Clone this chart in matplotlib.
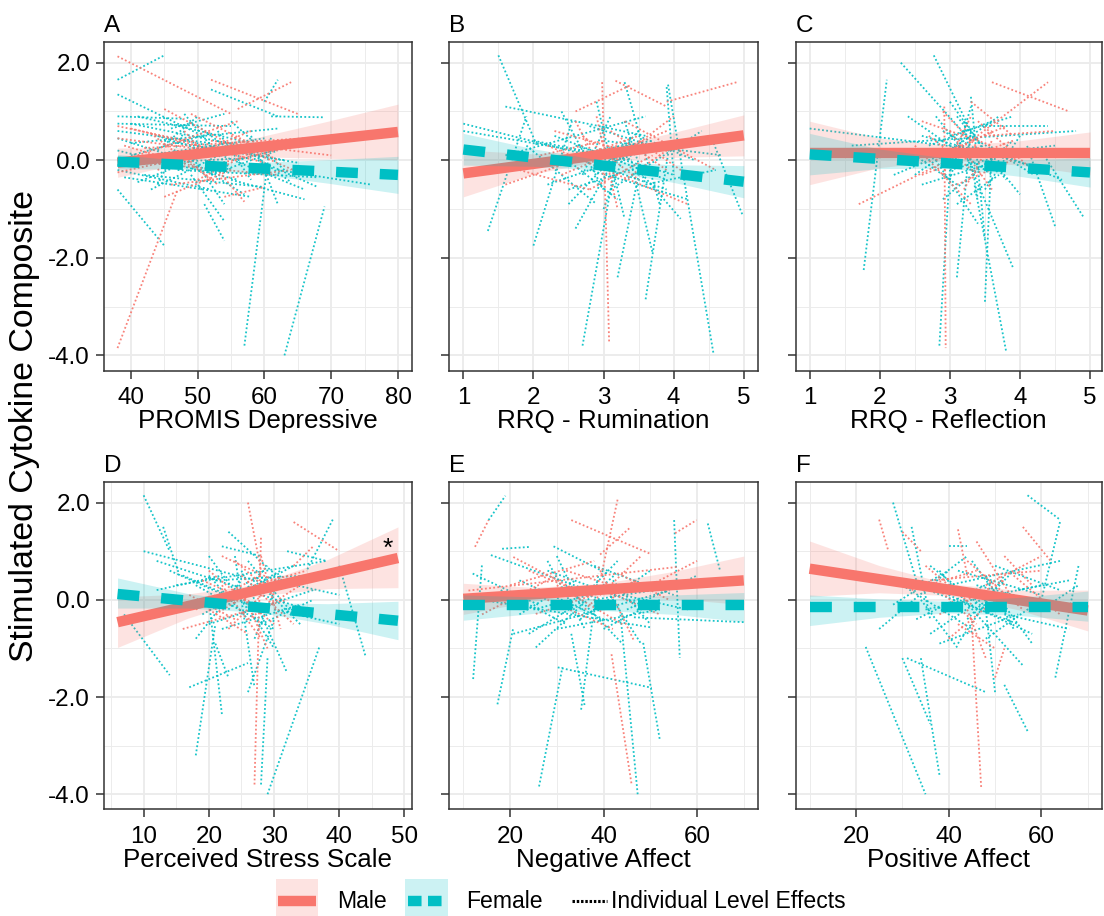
import matplotlib
matplotlib.use("Agg")
import matplotlib.pyplot as plt
from matplotlib.patches import Rectangle
from matplotlib.lines import Line2D

plt.rcParams['font.family'] = ['Liberation Sans', 'DejaVu Sans']

RED = '#F8766D'
CYAN = '#00BFC4'

# ---------------- data ----------------
letters = ["A", "B", "C", "D", "E", "F"]
xlabels = ["PROMIS Depressive", "RRQ - Rumination", "RRQ - Reflection",
           "Perceived Stress Scale", "Negative Affect", "Positive Affect"]
xlims = [(35.9, 82.1), (0.8, 5.2), (0.8, 5.166), (3.85, 51.15), (7, 73), (7, 73)]
xticks = [[40, 50, 60, 70, 80], [1, 2, 3, 4, 5], [1, 2, 3, 4, 5],
          [10, 20, 30, 40, 50], [20, 40, 60], [20, 40, 60]]
xminor = [[45, 55, 65, 75], [1.5, 2.5, 3.5, 4.5], [1.5, 2.5, 3.5, 4.5],
          [5, 15, 25, 35, 45], [10, 30, 50, 70], [10, 30, 50, 70]]
yticks = [2, 0, -2, -4]
ytick_labels = ["2.0", "0.0", "-2.0", "-4.0"]
yminor = [1, -1, -3]

# confidence band x positions
band_x = [[38, 48.5, 59, 69.5, 80], [1, 2, 3, 4, 5], [1, 2, 3, 4, 5],
          [6, 16.75, 27.5, 38.25, 49], [10, 25, 40, 55, 70], [10, 25, 40, 55, 70]]
male_lo = [[-0.35, -0.04, 0.07, 0.04, 0.01], [-0.75, -0.28, 0.0, 0.06, 0.09],
           [-0.5, -0.15, 0.0, -0.1, -0.3], [-0.98, -0.38, 0.08, 0.23, 0.25],
           [-0.3, -0.025, 0.08, 0.025, -0.1], [0.07, 0.145, 0.09, -0.205, -0.64]]
male_hi = [[0.25, 0.26, 0.47, 0.80, 1.15], [0.21, 0.13, 0.24, 0.57, 0.93],
           [0.8, 0.45, 0.3, 0.4, 0.58], [0.06, 0.12, 0.32, 0.83, 1.5],
           [0.34, 0.255, 0.34, 0.585, 0.9], [1.21, 0.705, 0.33, 0.195, 0.2]]
female_lo = [[-0.18, -0.18, -0.285, -0.47, -0.68], [-0.1, -0.125, -0.21, -0.455, -0.77],
             [-0.3, -0.17, -0.165, -0.33, -0.55], [-0.17, -0.17, -0.255, -0.5, -0.82],
             [-0.42, -0.28, -0.22, -0.3, -0.45], [-0.53, -0.36, -0.27, -0.32, -0.44]]
female_hi = [[0.12, -0.02, -0.045, 0.01, 0.08], [0.55, 0.235, -0.01, -0.095, -0.11],
             [0.55, 0.23, 0.035, 0.01, 0.05], [0.45, 0.13, -0.055, -0.08, -0.03],
             [0.1, 0.06, 0.02, 0.1, 0.15], [0.1, 0.02, -0.03, 0.05, 0.18]]

# fitted lines: (x0, y0, x1, y1)
male_fit = [(38, -0.05, 80, 0.58), (1, -0.27, 5, 0.51), (1, 0.15, 5, 0.15),
            (6, -0.46, 49, 0.86), (10, 0.02, 70, 0.40), (10, 0.64, 70, -0.22)]
female_fit = [(38, -0.03, 80, -0.30), (1, 0.22, 5, -0.44), (1, 0.12, 5, -0.25),
              (6, 0.12, 49, -0.43), (10, -0.10, 70, -0.10), (10, -0.15, 70, -0.15)]

# individual-level effects: (x0, y0, x1, y1)
A_male = [(38, 2.13, 55, 0.95), (38, -3.85, 47, -0.6), (52, 1.65, 65, 0.95),
          (56, 1.05, 64, 1.6), (45, 1.05, 58, 0.1), (40, 0.65, 60, -0.05),
          (42, 0.25, 66, 0.45), (48, 0.6, 57, -0.85), (38, 0.0, 62, -0.3),
          (50, -0.4, 60, 0.3), (44, -0.2, 58, 0.6), (52, 0.4, 70, 0.1),
          (38, 0.45, 55, 0.15), (46, -0.5, 64, -0.2), (54, -0.75, 60, -0.55),
          (39, 0.3, 50, -0.15), (47, 0.2, 53, -0.5), (55, 0.5, 62, 0.0),
          (38, 0.7, 50, 0.35), (41, 0.1, 56, 0.8), (43, 0.55, 52, -0.4),
          (49, 0.95, 60, 0.2), (52, -0.1, 65, 0.3), (38, -0.25, 48, 0.05),
          (56, 0.3, 66, -0.3), (45, -0.75, 55, -0.2)]
A_female = [(38, 1.65, 45, 2.15), (38, 1.35, 50, 0.55), (57, -3.8, 61, 0.5),
            (63, -4.0, 69, -0.95), (38, -0.6, 45, -1.75), (49, -0.3, 54, -1.25),
            (51, -0.9, 54, -1.65), (52, 1.45, 62, 0.9), (60, 1.2, 62, 1.65),
            (61, 0.9, 69, 0.88), (38, 0.9, 48, 0.85), (38, 0.6, 52, 0.35),
            (40, 0.75, 60, 0.2), (45, 0.4, 65, -0.05), (38, 0.2, 56, -0.4),
            (42, -0.3, 60, -0.55), (48, 0.95, 55, -0.2), (50, 0.3, 66, -0.6),
            (55, 0.8, 63, -0.2), (58, 0.5, 62, -0.9), (38, -0.1, 58, 0.05),
            (44, 0.2, 50, 0.9), (47, -0.2, 68, -0.35), (40, 0.1, 52, 0.55),
            (56, 0.0, 64, 0.3), (62, -0.2, 76, -0.5), (44, 0.5, 53, 0.1),
            (50, -0.1, 57, -0.7), (59, 0.0, 68, -0.55), (46, 0.65, 54, 0.95),
            (41, -0.45, 52, 0.15), (53, 0.6, 58, -0.4),
            (38, 0.75, 55, 0.7), (38, 0.45, 47, 0.05), (39, -0.35, 58, -0.75),
            (41, 0.9, 58, 0.35), (43, -0.6, 56, 0.3), (45, 0.15, 60, 0.45),
            (48, 0.4, 63, 0.0), (50, 0.7, 57, 0.0), (52, -0.3, 62, 0.2),
            (38, -0.2, 52, -0.6), (44, -0.5, 48, 0.6), (55, -0.4, 66, -0.8),
            (40, 0.35, 62, 0.65), (49, 0.1, 54, -0.9), (57, 0.25, 64, -0.45)]
B_male = [(2.98, 1.6, 3.08, -3.75), (3.17, 1.63, 3.9, 1.1), (3.9, 1.2, 4.9, 1.6),
          (2.6, 1.0, 3.4, 1.55), (1.6, -0.5, 3.2, 0.3), (2.2, 0.3, 4.2, -0.9),
          (3.3, 0.8, 4.6, -0.2), (2.4, -0.3, 3.9, 0.6), (2.7, 0.5, 3.5, -0.4),
          (3.0, -0.2, 4.0, 0.9), (2.9, 0.9, 3.2, -1.0), (2.3, 0.6, 3.3, 0.2),
          (3.5, 0.4, 4.3, -0.4), (1.8, -0.2, 2.8, -0.6),
          (2.5, 0.0, 3.5, 0.5), (2.8, -0.6, 3.7, 0.1), (3.1, 0.6, 3.9, -0.2),
          (2.6, 0.8, 3.0, -0.3), (3.3, -0.4, 4.0, 0.3), (2.1, 0.1, 3.0, 0.4)]
B_female = [(1.5, 2.15, 2.05, 0.3), (1.35, -1.45, 1.9, 0.9), (2.0, -1.75, 2.55, 0.8),
            (2.7, -3.8, 3.2, 0.2), (3.92, 1.55, 4.57, -3.98), (3.3, 1.6, 3.8, -0.9),
            (3.6, -2.85, 3.95, 0.4), (3.2, -2.4, 3.5, -0.3), (1.0, 0.75, 3.2, -0.05),
            (1.0, 0.6, 2.8, 0.15), (1.6, 0.1, 3.6, 0.9), (1.6, 1.1, 3.6, 0.5),
            (4.57, 0.35, 4.99, -1.15), (2.6, -1.4, 3.3, 0.4), (3.9, 1.5, 4.0, -0.3),
            (2.4, 1.0, 3.0, -0.6), (2.8, -0.2, 4.2, -0.8), (3.0, 0.4, 4.7, 0.1),
            (2.2, -0.5, 3.8, 0.3), (3.4, -0.1, 3.7, -1.9), (2.9, 1.2, 3.3, -1.2),
            (2.6, 0.3, 4.0, -0.3), (3.1, -0.6, 4.4, 0.6), (1.9, 0.3, 2.9, -0.9),
            (3.3, 0.8, 3.6, -0.5), (2.5, -0.9, 3.5, 0.6),
            (2.3, 0.5, 3.9, -0.4), (2.5, -0.6, 3.6, -0.1), (2.8, 0.7, 3.9, 0.2),
            (3.0, -1.0, 3.4, 0.5), (2.4, 0.1, 3.2, -0.8), (3.2, 0.3, 4.1, -1.2),
            (2.7, -0.3, 3.1, 0.9), (3.5, 0.5, 4.3, 0.0), (2.0, 0.4, 3.4, 0.0),
            (3.1, -0.2, 3.9, -0.6), (2.9, 0.2, 3.7, 0.4), (3.6, -0.5, 4.6, -0.2)]
C_male = [(2.92, 1.1, 2.94, -3.85), (3.6, 1.6, 4.7, 1.0), (3.3, 0.4, 4.4, 1.6),
          (1.7, -0.9, 3.4, 0.3), (2.6, -0.3, 3.9, 0.4), (3.0, 0.6, 3.6, -0.6),
          (2.9, 1.0, 3.5, 0.1), (3.1, -0.5, 4.2, 0.2), (2.5, 0.3, 3.3, -0.9),
          (3.4, 0.8, 4.1, -0.1), (3.5, 0.5, 4.5, 0.6), (2.8, 0.0, 3.6, 0.6),
          (2.7, 0.5, 3.4, -0.3), (3.0, 0.2, 3.8, 0.7), (3.2, -0.6, 3.6, 0.4),
          (2.6, 0.8, 3.6, 0.3), (3.3, 1.2, 3.9, 0.5), (2.9, -0.3, 3.3, 0.9)]
C_female = [(1.77, -2.25, 2.1, 1.65), (2.3, 2.0, 3.3, 0.4), (2.77, 2.15, 3.3, 0.6),
            (2.85, -3.8, 3.0, -0.2), (3.1, -2.4, 3.3, 0.6), (3.5, -2.9, 3.6, 0.3),
            (3.8, -3.9, 3.35, -0.5), (4.5, -1.35, 4.1, 0.3), (4.9, -1.15, 4.3, 0.2),
            (1.0, 0.65, 3.5, 0.2), (1.6, 0.3, 4.8, 0.6), (2.5, -0.3, 3.7, 0.9),
            (3.0, 1.2, 3.8, -0.4), (3.3, 1.3, 3.5, -1.6), (2.6, 0.5, 4.4, -0.2),
            (2.9, -0.8, 3.9, 0.4), (3.2, 0.2, 3.9, -2.2), (2.4, 0.9, 3.6, -0.3),
            (3.5, 0.7, 4.4, 0.7), (2.8, 0.0, 3.4, -1.3), (3.1, 0.9, 4.0, -0.7),
            (2.2, -0.3, 3.2, 0.3), (3.6, 0.2, 4.6, -0.4), (3.0, -0.4, 3.3, 1.1),
            (2.7, 0.3, 3.6, 0.8), (2.9, 0.6, 3.8, -0.1), (3.0, -0.2, 4.0, 0.2),
            (3.2, 0.8, 3.4, -0.8), (2.6, -0.5, 3.5, -0.1), (3.4, 0.4, 4.2, -0.3),
            (3.1, -0.9, 3.7, -0.3), (2.8, 0.9, 3.3, 0.0), (3.3, 0.1, 4.5, 0.3),
            (2.4, 0.2, 3.1, -0.5), (3.5, -0.6, 4.0, 0.5), (3.0, 0.5, 3.9, 0.9)]
D_male = [(27, -3.8, 28, 1.3), (26, 2.0, 28, 0.6), (33, 1.6, 40, 1.0),
          (33, 0.7, 36, 1.1), (18, -0.2, 28, 0.5), (20, 0.6, 30, -0.5),
          (16, -0.6, 32, 0.0), (22, 0.3, 28, -0.8), (24, 0.8, 30, 0.1),
          (26, -0.4, 34, 0.3), (28, 0.9, 31, -0.6), (21, -0.3, 27, 0.2),
          (25, 0.2, 29, -1.0),
          (19, 0.4, 29, -0.2), (23, -0.6, 31, 0.5), (25, 0.5, 33, -0.5),
          (20, -0.2, 26, -0.7), (27, 0.3, 35, 0.6), (22, 0.9, 30, 0.4),
          (17, 0.1, 24, -0.4)]
D_female = [(10, 2.15, 14, 1.0), (13, 1.5, 15.5, 0.5), (7, -0.3, 14, -1.55),
            (18, -3.2, 21, -0.5), (22, -2.35, 20, 0.0), (17, -1.8, 26, -1.3),
            (29, -4.0, 37, -0.95), (28, -3.8, 29, -1.2), (26, -1.9, 30, -0.4),
            (39, 1.65, 35, 0.6), (40, 0.7, 44, -1.15), (10, 1.0, 30, 0.3),
            (22, 1.1, 28, 0.9), (23, 1.4, 32, 0.3), (12, 0.8, 35, -0.2),
            (15, 0.3, 38, 0.8), (20, -0.5, 36, 0.2), (25, 0.6, 32, -1.5),
            (21, -0.9, 23, -1.6), (24, 0.9, 27, -1.8), (18, 0.3, 30, -0.6),
            (26, 0.2, 33, 0.7), (30, -0.2, 40, -0.5), (14, 0.6, 24, 0.0),
            (27, -0.8, 31, 0.5), (32, 1.0, 38, 0.8), (20, 0.5, 26, -0.4),
            (34, -0.5, 28, 0.3),
            (16, 0.5, 28, -0.2), (19, -0.3, 31, 0.6), (20, 0.9, 26, -0.2),
            (22, -0.6, 34, -0.1), (24, 0.3, 30, -1.0), (18, -0.8, 25, 0.4),
            (26, 0.8, 33, -0.3), (21, 0.4, 35, 0.5), (28, -0.5, 36, 0.0),
            (23, -0.2, 29, 0.7), (12, 0.2, 22, 0.5), (30, 0.4, 40, 0.1)]
E_male = [(43, 2.06, 39.5, 0.5), (33.1, 1.64, 49.9, 0.95), (45.5, 1.47, 38.9, 0.9),
          (41.7, -1.12, 46, -3.8), (12.5, 1.09, 15.4, 1.64), (55.3, 1.37, 59.9, 1.64),
          (11.1, 0.19, 56.1, 0.68), (25.5, -0.29, 47.5, 0.4), (20.7, 0.88, 36.9, 0.06),
          (38.9, 0.68, 46.5, -0.84), (14, -0.3, 30, 0.5), (30, 0.3, 44, -0.5),
          (48, 0.2, 60, 0.8),
          (20, 0.3, 38, 0.8), (28, 0.0, 42, -0.6), (32, 0.6, 45, 0.2),
          (36, -0.2, 48, 0.9), (24, 0.6, 34, 0.2), (40, 0.2, 52, -0.3),
          (44, 0.5, 54, 0.0)]
E_female = [(12.1, -1.63, 14, 0.74), (15.4, 1.64, 19, 2.14), (17.3, -2.15, 20.7, -0.57),
            (26.2, -3.84, 31.2, -1.39), (47.3, -4.0, 43.6, -0.29), (35.2, -2.26, 38.9, 0.54),
            (52, -2.86, 48.4, -0.84), (55.1, 1.64, 56.3, -1.19), (62.3, 1.57, 64.9, 0.61),
            (29.3, 1.1, 40.8, 0.54), (18.3, 1.05, 24.5, 1.09), (15.9, 0.92, 36.9, 0.19),
            (10.1, 0.06, 50.3, -0.57), (20.7, -0.7, 54.2, 0.19), (30.2, -1.39, 50.3, -1.81),
            (37.9, 0.0, 63.7, 0.4), (46.5, -0.36, 70, -0.46), (25.5, -0.98, 42.7, 0.54),
            (33.1, -0.7, 36, -2.2), (12, 0.54, 26, -0.1), (28, 0.8, 36, -0.6),
            (40, 0.3, 48, -0.9), (22, -0.3, 34, 0.4), (44, 0.1, 58, -0.2),
            (22, 0.4, 40, -0.4), (25, -0.2, 45, 0.3), (28, 0.6, 48, -0.1),
            (30, -0.6, 52, -0.2), (33, 0.2, 44, -0.9), (35, -0.4, 50, 0.6),
            (38, 0.7, 55, 0.1), (24, -0.7, 36, 0.0), (40, -0.6, 52, 0.0),
            (42, 0.4, 50, -0.5), (18, 0.2, 32, -0.5), (45, -0.2, 60, 0.5),
            (30, 0.9, 36, -0.3), (36, 0.1, 43, 0.8)]
F_male = [(47, -3.85, 45, -0.5), (25, 1.65, 27, 1.0), (30, 1.4, 34, 1.0),
          (42, 1.45, 44, 0.5), (56, 1.5, 62, 0.8), (46, 1.2, 54, 0.0),
          (36, 0.4, 60, 0.6), (40, -0.8, 50, 0.0), (50, -1.6, 52, -1.0),
          (44, -0.2, 48, -1.2), (52, 0.9, 58, 0.3), (38, 0.2, 46, -0.5),
          (32, 0.2, 46, 0.6), (38, -0.3, 52, 0.4), (44, 0.8, 56, -0.2),
          (48, 0.3, 60, 0.9), (35, 0.7, 45, -0.1), (42, -0.5, 50, -1.0),
          (54, 0.5, 64, -0.3)]
F_female = [(22.1, -0.97, 35, -4.0), (28, 2.0, 33, 0.4), (30, -1.2, 36, -2.55),
            (38, -3.6, 34, -1.2), (40, 1.1, 44, 1.1), (57, 2.15, 64, 1.65),
            (64, 1.6, 60, 0.0), (63, -1.6, 68, 0.7), (50, -1.9, 48, -0.2),
            (46, -0.3, 56, -1.35), (52, -1.75, 57, -2.7), (31, -1.2, 48, -1.9),
            (25, -0.6, 40, 0.6), (30, 0.4, 55, -0.5), (35, -0.2, 60, 0.3),
            (45, 0.8, 58, -0.9), (40, 0.3, 64, 0.8), (36, -0.7, 50, 0.2),
            (32, 1.5, 36, -0.4), (42, -0.9, 52, 0.5), (48, 0.5, 54, -0.6),
            (55, 0.2, 66, 0.4), (38, 0.6, 46, -0.3), (60, -0.2, 68, 0.3),
            (30, 0.3, 45, -0.6), (33, -0.4, 50, 0.4), (36, 0.7, 48, -0.2),
            (38, -0.9, 55, -0.3), (40, 0.1, 58, -0.7), (42, 0.6, 60, 0.1),
            (44, -0.4, 54, 0.6), (46, 0.3, 62, -0.1), (48, -0.8, 60, 0.0),
            (34, 0.0, 42, -1.0), (50, 0.7, 64, 0.2), (28, -0.1, 38, 0.5),
            (52, -0.3, 66, -0.6), (37, 0.4, 44, 0.9)]

male_ind = [A_male, B_male, C_male, D_male, E_male, F_male]
female_ind = [A_female, B_female, C_female, D_female, E_female, F_female]

star_pos = (47.5, 0.91)  # significance marker in panel D

# ---------------- layout ----------------
W, H = 1104, 916
fig = plt.figure(figsize=(W / 100, H / 100), dpi=100)
col_left = [103.5, 449.3, 795.7]
col_w = [308.5, 308.5, 306.0]
row_top = [41.7, 481.7]
row_h = [328.8, 327.6]

DOT = (0, (1, 1.3))

for i in range(6):
    r, c = divmod(i, 3)
    ax = fig.add_axes([col_left[c] / W, 1 - (row_top[r] + row_h[r]) / H,
                       col_w[c] / W, row_h[r] / H])
    ax.set_xlim(*xlims[i])
    ax.set_ylim(-4.31, 2.43)
    ax.set_xticks(xticks[i])
    ax.set_xticks(xminor[i], minor=True)
    ax.set_yticks(yticks)
    ax.set_yticks(yminor, minor=True)
    if c == 0:
        ax.set_yticklabels(ytick_labels)
    else:
        ax.set_yticklabels([])
    ax.set_axisbelow(True)
    ax.grid(which='major', color='#EBEBEB', lw=1.3)
    ax.grid(which='minor', color='#EBEBEB', lw=0.65)
    ax.tick_params(which='major', direction='out', length=5.5, width=1.1,
                   color='#333333', labelsize=17.4, labelcolor='black')
    ax.tick_params(axis='x', pad=6.5)
    ax.tick_params(axis='y', pad=4.3)
    ax.tick_params(which='minor', length=0)
    for s in ax.spines.values():
        s.set_color('#333333')
        s.set_linewidth(1.1)
        s.set_zorder(10)

    for (x0, y0, x1, y1) in female_ind[i]:
        ax.plot([x0, x1], [y0, y1], color=CYAN, lw=1.3, ls=DOT, alpha=0.9, zorder=2)
    for (x0, y0, x1, y1) in male_ind[i]:
        ax.plot([x0, x1], [y0, y1], color=RED, lw=1.3, ls=DOT, alpha=0.9, zorder=2)

    bx = band_x[i]
    # male smooth (ribbon + line), then female smooth on top
    ax.fill_between(bx, male_lo[i], male_hi[i], color=RED, alpha=0.2, lw=0, zorder=3)
    mx0, my0, mx1, my1 = male_fit[i]
    ax.plot([mx0, mx1], [my0, my1], color=RED, lw=7.5, solid_capstyle='butt', zorder=4)
    ax.fill_between(bx, female_lo[i], female_hi[i], color=CYAN, alpha=0.2, lw=0, zorder=5)
    fx0, fy0, fx1, fy1 = female_fit[i]
    ax.plot([fx0, fx1], [fy0, fy1], color=CYAN, lw=7.5, ls=(0, (2.1, 2.1)),
            dash_capstyle='butt', zorder=6)

    ax.set_xlabel(xlabels[i], fontsize=18.7, color='black')
    ax.xaxis.set_label_coords(0.5, -57.5 / row_h[r])
    ax.xaxis.label.set_verticalalignment('baseline')
    ax.set_title(letters[i], loc='left', fontsize=17.5, pad=7.2, color='black')

    if letters[i] == 'D':
        ax.text(star_pos[0], star_pos[1], '*', fontsize=19, ha='center',
                va='baseline', color='black', zorder=7)

# y-axis title
fig.text(24.5 / W, 1 - 426 / H, 'Stimulated Cytokine Composite', rotation=90,
         ha='center', va='center', fontsize=24.4, color='black')

# ---------------- legend (manual) ----------------
def fx(x):
    return x / W

def fy(y):
    return 1 - y / H

ly = 901
fig.add_artist(Rectangle((fx(276), fy(916)), (318 - 276) / W, (916 - 879) / H,
                         transform=fig.transFigure, facecolor=RED, alpha=0.2, lw=0))
fig.add_artist(Line2D([fx(278), fx(316)], [fy(ly), fy(ly)], transform=fig.transFigure,
                      color=RED, lw=7.5, solid_capstyle='butt'))
fig.text(fx(337), fy(ly), 'Male', fontsize=16.6, ha='left', va='center', color='black')

fig.add_artist(Rectangle((fx(404.5), fy(916)), (448 - 404.5) / W, (916 - 879) / H,
                         transform=fig.transFigure, facecolor=CYAN, alpha=0.2, lw=0))
fig.add_artist(Line2D([fx(408), fx(445)], [fy(ly), fy(ly)], transform=fig.transFigure,
                      color=CYAN, lw=7.5, ls=(0, (1.3, 0.62)), dash_capstyle='butt'))
fig.text(fx(466.5), fy(ly), 'Female', fontsize=16.6, ha='left', va='center', color='black')

fig.add_artist(Line2D([fx(572), fx(606.5)], [fy(ly), fy(ly)], transform=fig.transFigure,
                      color='black', lw=2.2, ls=(0, (0.8, 0.6))))
fig.text(fx(611), fy(ly), 'Individual Level Effects', fontsize=16.6, ha='left',
         va='center', color='black')

fig.savefig('out.png', dpi=100, facecolor='white')
